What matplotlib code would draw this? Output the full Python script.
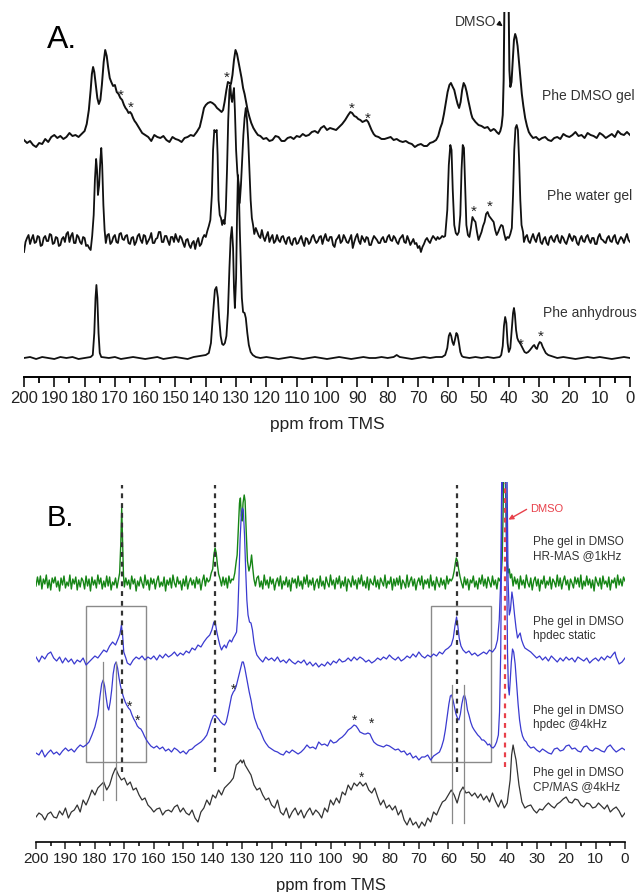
import numpy as np
import matplotlib.pyplot as plt
from matplotlib.ticker import MultipleLocator
from matplotlib.patches import Rectangle

plt.rcParams['font.family'] = ['Liberation Sans', 'DejaVu Sans']


def seg(start, vals, step=0.5):
    return [(start - step * i, v) for i, v in enumerate(vals)]


# ---------------- data: (ppm, intensity above own baseline) ----------------
# Panel A
dmso_gel = [
    (200, 0), (199, -3), (198, -1), (197, -5), (196, -7), (195, -3), (194, -4), (193, 1), (192, -2),
    (191, 3), (190, 5), (189, 2), (188, 4), (187, 1), (186, 3), (185, 7), (184, 4), (183, 5), (182, 3),
    (181, 6), (180, 9), (179.3, 16), (178.6, 30), (178, 50), (177.6, 66), (177.2, 73), (176.8, 68),
    (176.3, 55), (175.8, 42), (175.3, 36), (174.8, 40), (174.3, 55), (173.7, 78), (173.2, 90),
    (172.7, 84), (172.2, 72), (171.7, 62), (171.2, 58), (170.6, 54), (170, 55), (169.4, 48),
    (168.8, 46), (168.2, 42), (167.6, 40), (167, 35), (166.5, 32), (166, 30), (165.5, 27), (165, 28),
    (164.5, 26), (164, 22), (163.5, 19), (163, 17), (162, 12), (161, 7), (160, 5), (159, 3), (158, -1),
    (157, 5), (156, 3), (155, 2), (154, 4), (153, 0), (152, -2), (151, 3), (150, 1), (149, 0),
    (148, -2), (147, 2), (146, 3), (145, 5), (144, 4), (143, 8), (142, 13), (141.3, 22), (140.6, 32),
    (140, 35), (139.3, 37), (138.5, 38), (137.8, 37), (137, 35), (136.3, 32), (135.5, 30), (134.8, 28),
    (134.3, 30), (133.8, 38), (133.2, 50), (132.7, 58), (132.2, 57), (131.7, 56), (131.2, 65),
    (130.7, 80), (130.2, 90), (129.7, 86), (129.2, 78), (128.7, 70), (128.2, 62), (127.7, 52),
    (127.2, 46), (126.7, 38), (126.2, 30), (125.6, 23), (125, 17), (124.3, 12), (123.5, 8), (122.8, 5),
    (122, 4), (121, 1), (120, 2), (119, -1), (118, 0), (117, 4), (116, 3), (115, -1), (114, -1),
    (113, 2), (112, 3), (111, 1), (110, 4), (109, 3), (108, 6), (107, 4), (106, 5), (105, 8), (104, 9),
    (103, 7), (102, 12), (101, 14), (100, 10), (99, 12), (98, 11), (97, 10), (96, 13), (95, 16),
    (94, 20), (93, 25), (92.3, 28), (91.7, 27), (91, 24), (90.3, 23), (89.7, 21), (89, 20), (88.3, 18),
    (87.6, 19), (87, 20), (86.4, 18), (86, 15), (85.3, 10), (84.6, 6), (84, 4), (83, 3), (82, 1),
    (81, 1), (80, 2), (79, 3), (78, 0), (77, 1), (76, -1), (75, -2), (74, -1), (73, -3), (72, -4),
    (71, -7), (70, -5), (69, -4), (68, -6), (67, -6), (66, -3), (65, -2), (64, 0), (63.3, 4),
    (62.6, 12), (62, 17), (61.4, 26), (60.8, 37), (60.2, 48), (59.6, 55), (59.1, 57), (58.5, 53),
    (58, 50), (57.4, 42), (56.9, 36), (56.4, 32), (55.9, 38), (55.4, 50), (54.9, 57), (54.4, 54),
    (53.9, 48), (53.4, 40), (52.9, 33), (52.4, 26), (52, 22), (51, 18), (50, 15), (49, 14), (48, 12),
    (47, 13), (46, 9), (45, 11), (44.5, 10), (44, 8), (43.3, 6), (42.8, 9), (42.4, 14), (42, 25),
    (41.7, 60), (41.4, 150), (41.0, 260), (40.5, 260), (40.1, 150), (39.8, 70), (39.5, 53),
    (39.1, 58), (38.7, 80), (38.3, 100), (37.9, 106), (37.5, 102), (37.1, 94), (36.7, 80), (36.2, 62),
    (35.7, 46), (35.2, 34), (34.6, 22), (34, 14), (33.4, 8), (32.8, 5), (32, 2), (31, 3), (30, 0),
    (29, 2), (28, 3), (27, 0), (26, -1), (25, 2), (24, 3), (23, 1), (22, 6), (21, 4), (20, 3), (19, 5),
    (18, 8), (17, 4), (16, 5), (15, 2), (14, 7), (13, 5), (12, 4), (11, 2), (10, 7), (9, 5), (8, 2),
    (7, 4), (6, 6), (5, 3), (4, 9), (3, 6), (2, 5), (1, 8), (0, 5),
]

water_gel = (
    seg(200, [-12, -2, 2, 5, -4, 1, 5, -3, -2, 4, 3, -6, -5, 2, 4, -1, -1, 6, 5, -4,
              -3, 3, 2, -6, -5, 1, 3, -2, 6, 8, -2, 4, 7, -3, -3, 5, 3, -2, -4, 3,
              2, -6, -5, -8, -10, 4])
    + [(177, 25), (176.6, 60), (176.2, 81), (175.9, 70), (175.6, 45), (175.2, 55), (174.8, 80),
       (174.5, 92), (174.2, 75), (173.8, 35), (173.4, 10)]
    + seg(173, [-3, 5, 6, -4, -2, 3, 5, -2, -3, 6, 7, 1, 0, 4, 5, -3, -4, 2, 3, -5,
                -2, 4, 6, 0, -3, 5, 4, -4, -1, 2, 7, -3, -3, 1, 2, 8, 8, -2, -2, 4,
                4, -1, -5, 3, 3, -2, 6, 1, -2, 4, 2, -3, -7, 0, 1, -5, -8, -3, -1, -9,
                -2, 2, -6, -4, 2, 5, 3, 9])
    + [(139, 14), (138.5, 20), (138, 45), (137.6, 90), (137.2, 110), (136.8, 108), (136.4, 110),
       (136.1, 85), (135.8, 40), (135.4, 25), (135, 22), (134.6, 15), (134.2, 20), (133.8, 16),
       (133.4, 30), (133, 70), (132.6, 120), (132.2, 150), (131.9, 155), (131.6, 142), (131.3, 138),
       (131, 146), (130.7, 152), (130.4, 130), (130, 90), (129.6, 68), (129.2, 55), (128.8, 37),
       (128.4, 55), (128, 80), (127.6, 105), (127.2, 122), (126.8, 132), (126.4, 120), (126, 100),
       (125.6, 70), (125.2, 40), (124.8, 22), (124.4, 15), (124, 6)]
    + seg(123.5, [12, 8, 4, 2, 10, 3, -1, 4, 8, -2, 2, 5, -3, -1, 5, 0, -2, 3, 4, -1,
                  -4, 2, 3, -3, -5, 1, 2, -4, -3, 1, 4, -2, -6, 2, 1, -4, -2, 3, 5, 0,
                  -3, -1, 3, 4, -4, 2, 6, 0, -1, 3, 3, -5, -7, 0, 2, 5, -3, -1, 5, 2,
                  -2, -3, 1, 5, -8, -2, 3, 6, -1, -4, 4, 1, -2, 3, 2, -5, -5, 0, 4, 2,
                  0, -3, -3, 1, 3, -2, -2, 3, 5, 0, -1, 4, 2, -2, -4, 1, 3, 5, -2, -3,
                  4, 0, -5, -2, 1, -4, -3, -8, -6, -12, -7, -4, 0, 2, -1, -3, 1, 4, 2, 0,
                  3, 1, 2, 4, 3, 4])
    + [(60.3, 30), (59.8, 75), (59.3, 95), (58.9, 90), (58.5, 50), (58, 15), (57.5, 7), (57, 5),
       (56.5, 8), (56, 25), (55.6, 70), (55.2, 95), (54.8, 92), (54.4, 55), (54, 15), (53.5, 5),
       (53, 3), (52.5, 12), (52, 23), (51.5, 20), (51, 18), (50.5, 8), (50, 0), (49.5, 4), (49, 8),
       (48.5, 14), (48, 18), (47.5, 26), (47, 28), (46.5, 24), (46, 22), (45.5, 20), (45, 18),
       (44.5, 10), (44, 5), (43.5, 8), (43, 12), (42.5, 15), (42, 14), (41.5, 6), (41, 0), (40.5, 3),
       (40, 2), (39.5, 6), (39, 12), (38.6, 45), (38.2, 90), (37.8, 112), (37.4, 115), (37, 110),
       (36.6, 80), (36.2, 40), (35.8, 15), (35.3, 8)]
    + seg(35, [-2, 3, 5, -1, -3, 2, 6, 1, -2, 4, 7, -2, -4, 1, 3, -3, -5, 2, 4, 0,
               -2, 3, 5, -1, -3, 4, 2, -2, -4, 1, 6, 2, -1, 4, 3, -3, -5, 1, 4, -1,
               -2, 3, 5, 0, -3, 2, 2, -4, -4, 3, 6, 1, 0, -2, -3, 2, 4, -1, -2, 3,
               5, -2, -4, 0, 3, 1, -3, 2, 6, 0, -2])
)

anhydrous = [
    (200, 0), (198, 1), (196, -1), (194, 1), (192, 0), (190, -1), (188, 1), (186, 0), (184, 1),
    (182, -1), (180, 0), (178, 1), (177.3, 3), (176.8, 25), (176.4, 60), (176.1, 73), (175.8, 60),
    (175.4, 25), (175, 5), (174.5, 1), (172, 0), (170, 1), (168, -1), (166, 0), (164, 1), (162, 0),
    (160, -1), (158, 0), (156, 1), (154, -1), (152, 0), (150, 1), (148, 0), (146, -1), (144, 1),
    (142, 2), (140, 3), (139, 5), (138.3, 15), (137.6, 45), (137, 68), (136.5, 71), (136, 60),
    (135.6, 40), (135.1, 22), (134.6, 14), (134.2, 13), (133.7, 15), (133.2, 22), (132.7, 45),
    (132.2, 90), (131.8, 120), (131.4, 131), (131, 110), (130.7, 70), (130.4, 50), (130, 80),
    (129.7, 140), (129.4, 183), (129.1, 170), (128.8, 130), (128.5, 100), (128.1, 60), (127.7, 46),
    (127.2, 45), (126.8, 40), (126.3, 25), (125.8, 13), (125.2, 6), (124.5, 3), (123.5, 1), (122, 0),
    (120, 1), (118, 0), (116, -1), (114, 0), (112, 1), (110, 0), (108, -1), (106, 0), (104, 1),
    (102, 0), (100, -1), (98, 0), (96, 1), (94, 0), (92, -1), (90, 0), (88, 1), (86, 0), (84, 0),
    (82, 1), (80, 0), (78, 1), (77, 3), (76, 1), (74, 0), (72, -1), (70, 0), (68, 1), (66, 0), (64, 1),
    (62, 1), (61, 3), (60.3, 10), (59.8, 22), (59.4, 25), (59, 22), (58.6, 16), (58.2, 13),
    (57.8, 18), (57.3, 25), (56.9, 23), (56.4, 14), (56, 6), (55.5, 2), (55, 1), (53, 0), (51, 1),
    (49, 0), (47, 1), (45, 0), (43, 1), (42.5, 3), (42, 12), (41.6, 32), (41.2, 41), (40.8, 35),
    (40.4, 15), (40, 6), (39.5, 10), (39, 30), (38.6, 45), (38.3, 50), (38, 44), (37.6, 28),
    (37.2, 20), (36.8, 17), (36.3, 15), (35.8, 12), (35.3, 9), (34.8, 6), (34.2, 5), (33.6, 6),
    (33, 8), (32.5, 10), (32, 12), (31.6, 13), (31.1, 10), (30.7, 9), (30.3, 13), (29.8, 16),
    (29.3, 15), (28.8, 11), (28.3, 8), (27.8, 5), (27, 3), (26, 2), (25, 1), (24, 0), (22, 1), (20, 0),
    (18, -1), (16, 0), (14, 1), (12, 0), (10, 1), (8, 0), (6, -1), (4, 0), (2, 1), (0, 0),
]

# Panel B
hrmas = (
    seg(200, [-3, 6, -2, 7, -6, 4, -1, 8, -5, 3, -7, 5, 0, 6, -4, 2, -8, 5, -2, 7,
              -5, 1, -3, 8, -6, 4, -1, 6, -7, 3, -4, 5, 2, -6, 7, -3, 4, -8, 6, -2,
              3, -5, 8, -1, 5, -6, 2, -4, 7, -3, 6, -7, 1, -2, 5, -5])
    + [(172.0, 3), (171.6, 10), (171.2, 40), (170.9, 75), (170.6, 40), (170.3, 8)]
    + seg(170, [-4, 5, -2, 3, -6, 7, -1, 4, -8, 2, -3, 6, 0, -5, 8, -2, 3, -7, 5, -1,
                4, -6, 2, 7, -4, 1, -3, 6, -8, 3, -2, 5, -5, 8, 0, -4, 6, -1, 2, -7,
                4, -3, 7, -6, 1, 5, -2, 3, -5, 6, -1, 4, -7, 2, 8, -3, 5, 1, 3])
    + [(140.5, 10), (140, 14), (139.6, 28), (139.2, 35), (138.8, 30), (138.4, 18), (138, 9),
       (137.5, 4)]
    + seg(137, [-3, 6, -2, 5, -5, 7, 0, 4, 3])
    + [(132.5, 10), (132.0, 22), (131.7, 28), (131.3, 55), (130.9, 80), (130.6, 85), (130.3, 68),
       (130.0, 62), (129.7, 80), (129.3, 88), (129.0, 82), (128.6, 50), (128.2, 22), (127.7, 12),
       (127.2, 18), (126.8, 28), (126.4, 15), (126, 4)]
    + seg(125.5, [-3, 5, 7, -4, 2, -6, 8, -2, 3, -5, 6, -1, 4, -7, 1, 5, -3, 7, -6, 2,
                  -2, 6, -4, 3, -8, 5, 0, 4, -5, 7, -3, 2, -6, 6, -1, 8, -4, 3, -2, 5,
                  -7, 1, 4, -5, 7, -3, 2, -6, 6, 0, -4, 8, -2, 3, -6, 5, -1, 7, -5, 2,
                  -3, 6, -8, 4, 1, -4, 7, -2, 3, -6, 5, -1, 8, -3, 2, -5, 6, -7, 4, 0,
                  -2, 7, -4, 3, -6, 5, 1, -3, 8, -5, 2, -1, 6, -7, 4, -3, 5, -2, 7, -6,
                  3, 0, -5, 8, -4, 2, 6, -3, 4, -7, 1, 5, -2, 7, -6, 3, -1, 4, -5, 8,
                  -3, 2, -7, 6, 0, -4, 5, -2, 3, -6, 7, -1, 4, 2])
    + [(58.5, 5), (58.0, 12), (57.6, 20), (57.3, 25), (56.9, 22), (56.5, 14), (56.0, 6), (55.5, 0)]
    + seg(55, [-5, 6, -2, 4, -7, 3, 0, 7, -4, 2, -6, 5, -1, 8, -3, 4, -5, 6, 1, -4,
               7, -2, 3, -6, 5, 2])
    + [(42.0, 8), (41.7, 25), (41.4, 70), (41.1, 130), (40.7, 130), (40.4, 70), (40.1, 25),
       (39.7, 10), (39.3, 14), (38.9, 5), (38.5, 9)]
    + seg(38, [-3, 6, -1, 4, -6, 7, -2, 3, -5, 8, 0, -4, 5, -7, 2, 6, -3, 4, -8, 3,
               -1, 7, -5, 2, -2, 6, -6, 4, 1, -4, 8, -3, 5, -6, 2, 7, -2, 3, -7, 4,
               0, -5, 6, -1, 5, -4, 8, -6, 2, -3, 7, -2, 4, -5, 3, -8, 6, 1, -3, 5,
               -6, 7, -1, 2, -4, 6, -7, 3, 0, 5, -5, 8, -2, 4, -3, 6, 2])
)

hpdec_static = [
    (200, 3), (199, -2), (198, 4), (197, 1), (196, 6), (195, 8), (194, 2), (193, -1), (192, 3),
    (191, -3), (190, 2), (189, -2), (188, 1), (187, -4), (186, 0), (185, -2), (184, 2), (183, -5),
    (182, -2), (181, 1), (180, 4), (179, 2), (178, 6), (177, 10), (176, 8), (175, 14), (174, 18),
    (173, 15), (172, 22), (171.5, 26), (171, 35), (170.6, 25), (170.2, 8), (169.5, 2), (169, -3),
    (168, -5), (167, 0), (166, 3), (165, 1), (164, 4), (163, 0), (162, 3), (161, 1), (160, 4), (159, 0),
    (158, 5), (157, 2), (156, 6), (155, 3), (154, 5), (153, 8), (152, 4), (151, 7), (150, 5), (149, 9),
    (148, 7), (147, 12), (146, 10), (145, 15), (144, 13), (143, 18), (142, 22), (141, 25),
    (140.3, 30), (139.6, 38), (139.1, 37), (138.6, 28), (138, 20), (137.5, 14), (137, 10),
    (136.5, 13), (136, 15), (135.4, 12), (134.8, 17), (134.2, 20), (133.6, 18), (133, 22),
    (132.4, 25), (131.9, 28), (131.5, 45), (131.1, 80), (130.7, 120), (130.3, 145), (129.9, 152),
    (129.6, 150), (129.2, 125), (128.8, 90), (128.4, 60), (128, 45), (127.5, 38), (127, 37),
    (126.5, 30), (126, 18), (125.5, 10), (125, 5), (124, 1), (123, -2), (122, 3), (121, 0), (120, 2),
    (119, -1), (118, 3), (117, -2), (116, 0), (115, -3), (114, 1), (113, -2), (112, -4), (111, -1),
    (110, -3), (109, 0), (108, -5), (107, -2), (106, -6), (105, -3), (104, -7), (103, -4), (102, -6),
    (101, -2), (100, -5), (99, -1), (98, -3), (97, 1), (96, -2), (95, -1), (94, 2), (93, -1), (92, 3),
    (91, 0), (90, 3), (89, 1), (88, -2), (87, 0), (86, -3), (85, -1), (84, 2), (83, 0), (82, 3),
    (81, 1), (80, 5), (79, 2), (78, 0), (77, 3), (76, -1), (75, 1), (74, 4), (73, 2), (72, 6), (71, 3),
    (70, 8), (69, 4), (68, 2), (67, 5), (66, 3), (65, 6), (64, 4), (63, 8), (62, 6), (61, 10),
    (60, 12), (59, 15), (58.3, 22), (57.7, 35), (57.2, 43), (56.8, 35), (56.3, 22), (55.7, 14),
    (55, 10), (54, 7), (53, 9), (52, 5), (51, 7), (50, 4), (49, 6), (48, 8), (47, 6), (46, 10), (45, 8),
    (44, 12), (43.3, 20), (42.7, 40), (42.2, 80), (41.8, 200), (41.2, 300), (40.6, 300), (40.1, 200),
    (39.7, 80), (39.3, 45), (38.9, 50), (38.4, 68), (38, 60), (37.5, 45), (37, 32), (36.5, 22),
    (36, 25), (35.6, 27), (35.1, 20), (34.5, 15), (34, 12), (33, 10), (32, 8), (31, 5), (30, 2),
    (29, 4), (28, 0), (27, 3), (26, -1), (25, 4), (24, 1), (23, -2), (22, 2), (21, -1), (20, 3),
    (19, 0), (18, 2), (17, -2), (16, 3), (15, 1), (14, -1), (13, 2), (12, -3), (11, 0), (10, 2),
    (9, -1), (8, 3), (7, 0), (6, 4), (5, 2), (4, 6), (3.4, 8), (3, 3), (2, -4), (1, -2), (0, 2),
]

hpdec_4khz = [
    (200, -1), (199, -3), (198, 2), (197, -5), (196, -1), (195, 2), (194, -2), (193, 0), (192, -3),
    (191, 1), (190, 4), (189, 1), (188, 3), (187, 0), (186, 4), (185, 7), (184, 5), (183, 7),
    (182, 10), (181, 17), (180, 25), (179, 37), (178.3, 55), (177.7, 68), (177.2, 72), (176.7, 66),
    (176.2, 55), (175.7, 45), (175.3, 42), (174.8, 50), (174.3, 62), (173.8, 78), (173.3, 87),
    (172.8, 90), (172.3, 84), (171.8, 74), (171.3, 66), (170.8, 60), (170.3, 55), (169.7, 50),
    (169.2, 47), (168.6, 44), (168, 42), (167.4, 37), (166.8, 33), (166.2, 30), (165.6, 26),
    (165, 24), (164.4, 23), (163.8, 20), (163.2, 16), (162.5, 12), (161.8, 9), (161, 6), (160, 4),
    (159, 6), (158, 3), (157, 5), (156, 1), (155, 3), (154, 0), (153, 4), (152, 2), (151, -1),
    (150, 1), (149, -2), (148, 2), (147, 3), (146, 6), (145, 8), (144, 10), (143, 13), (142, 17),
    (141.2, 24), (140.5, 31), (139.8, 36), (139.2, 37), (138.6, 35), (138, 33), (137.3, 30),
    (136.6, 28), (136, 27), (135.4, 30), (134.8, 38), (134.2, 47), (133.6, 56), (133, 60),
    (132.5, 62), (132, 66), (131.5, 72), (131, 78), (130.5, 84), (130, 90), (129.6, 90), (129.1, 84),
    (128.6, 76), (128.1, 68), (127.6, 60), (127, 52), (126.4, 42), (125.8, 34), (125.2, 29),
    (124.6, 24), (124, 22), (123.3, 17), (122.6, 12), (122, 9), (121, 5), (120, 3), (119, 1),
    (118, 0), (117, -2), (116, -3), (115, 1), (114, -1), (113, 2), (112, 0), (111, -2), (110, 0),
    (109, 3), (108, 7), (107, 4), (106, 5), (105, 3), (104, 10), (103, 7), (102, 8), (101, 6),
    (100, 12), (99, 9), (98, 10), (97, 13), (96, 15), (95, 18), (94, 22), (93, 24), (92, 27),
    (91.3, 26), (90.6, 23), (90, 20), (89.3, 19), (88.6, 18), (88, 18), (87.3, 19), (86.6, 18),
    (86, 14), (85.3, 10), (84.5, 8), (84, 7), (83, 6), (82, 5), (81, 7), (80, 6), (79, 4), (78, 2),
    (77, 3), (76, 0), (75, 1), (74, -3), (73, -1), (72, -6), (71, -4), (70, -8), (69, -5), (68, -5),
    (67, -3), (66, -8), (65, -4), (64, -2), (63, 0), (62.3, 5), (61.6, 12), (61, 22), (60.4, 35),
    (59.8, 48), (59.3, 56), (58.9, 57), (58.4, 52), (57.9, 45), (57.4, 38), (56.9, 34), (56.4, 32),
    (55.9, 38), (55.4, 48), (54.9, 55), (54.5, 57), (54, 52), (53.5, 42), (53, 37), (52.4, 30),
    (51.8, 25), (51.2, 22), (50.5, 19), (50, 17), (49.3, 15), (48.6, 12), (48, 12), (47.3, 10),
    (46.6, 7), (46, 8), (45.4, 5), (44.8, 4), (44.2, 6), (43.6, 10), (43, 17), (42.6, 40),
    (42.2, 100), (41.8, 250), (41.2, 300), (40.6, 300), (40.2, 200), (39.9, 100), (39.6, 65),
    (39.3, 57), (39, 70), (38.6, 90), (38.2, 103), (37.8, 100), (37.3, 88), (36.8, 68), (36.3, 48),
    (35.8, 32), (35.3, 22), (34.8, 16), (34.2, 12), (33.5, 10), (33, 7), (32, 4), (31, 5), (30, 2),
    (29, 0), (28, 3), (27, 1), (26, -1), (25, -2), (24, 3), (23, 4), (22, 1), (21, 2), (20, 6),
    (19, 7), (18, 3), (17, 4), (16, 1), (15, 0), (14, 5), (13, 6), (12, 2), (11, 1), (10, 4), (9, 3),
    (8, 1), (7, 0), (6, 5), (5, 7), (4, 3), (3, 0), (2, 2), (1, 4), (0, 2),
]

cpmas_4khz = [
    (200, -2), (199, 2), (198, 0), (197, -5), (196, 1), (195, 3), (194, -2), (193, -3), (192, 4),
    (191, 0), (190, 7), (189, -3), (188, 3), (187, 5), (186, 10), (185, 3), (184, 15), (183, 10),
    (182, 17), (181, 25), (180, 20), (179, 27), (178, 30), (177, 33), (176, 25), (175, 30), (174, 40),
    (173, 47), (172, 40), (171, 35), (170, 37), (169, 30), (168, 33), (167, 25), (166, 27), (165, 20),
    (164, 15), (163, 17), (162, 10), (161, 7), (160, 3), (159, 6), (158, 7), (157, 0), (156, 4),
    (155, 5), (154, 3), (153, 8), (152, 10), (151, 3), (150, 7), (149, 2), (148, 0), (147, 5),
    (146, -3), (145, -7), (144, 3), (143, 7), (142, 15), (141, 10), (140, 20), (139, 17), (138, 25),
    (137, 20), (136, 27), (135, 30), (134, 33), (133, 37), (132, 50), (131, 53), (130.5, 55),
    (130, 52), (129.5, 55), (129, 50), (128, 45), (127, 40), (126, 30), (125, 25), (124, 27),
    (123, 20), (122, 15), (121, 17), (120, 10), (119, 7), (118, 15), (117, 3), (116, 0), (115, 7),
    (114, -3), (113, 3), (112, 7), (111, 0), (110, 5), (109, -3), (108, 3), (107, 7), (106, 0),
    (105, 5), (104, 2), (103, -3), (102, 7), (101, 3), (100, 15), (99, 10), (98, 17), (97, 12),
    (96, 23), (95, 20), (94, 30), (93, 25), (92, 32), (91, 29), (90, 33), (89, 29), (88, 32), (87, 25),
    (86, 22), (85, 27), (84, 18), (83, 10), (82, 15), (81, 7), (80, 10), (79, 5), (78, 9), (77, 0),
    (76, 5), (75, -5), (74, -10), (73, -3), (72, -10), (71, -7), (70, -13), (69, -7), (68, -11),
    (67, -3), (66, -7), (65, 3), (64, 0), (63, 7), (62, 13), (61, 15), (60, 20), (59, 25), (58, 20),
    (57, 12), (56, 23), (55, 28), (54, 22), (53, 23), (52, 19), (51, 22), (50, 17), (49, 21),
    (48, 15), (47, 19), (46, 13), (45, 22), (44, 14), (43, 8), (42, 15), (41, 7), (40, 12), (39, 35),
    (38.5, 60), (38, 70), (37.5, 62), (37, 55), (36, 30), (35, 13), (34, 7), (33, 9), (32, 10),
    (31, 5), (30, 2), (29, 6), (28, 5), (27, 9), (26, 12), (25, 9), (24, 7), (23, 11), (22, 13),
    (21, 16), (20, 18), (19, 13), (18, 12), (17, 16), (16, 15), (15, 10), (14, 8), (13, 12), (12, 11),
    (11, 7), (10, 8), (9, 12), (8, 9), (7, 6), (6, 10), (5, 3), (4, 6), (3, 8), (2, 4), (1, -2), (0, 2),
]

# asterisks (ppm, height above axis) and guide lines
stars_a = [(168.0, 285), (164.7, 273), (133.0, 303), (91.7, 272), (86.5, 262),
           (51.5, 169), (46.2, 174), (36.0, 36), (29.4, 44)]
stars_b = [(168.1, 138), (165.5, 124), (133.1, 155), (91.7, 124), (86.2, 121), (89.6, 67)]
guide_ppm = [170.8, 139.2, 57.0]
dmso_ppm = 40.7
peak_marks_left = [177.1, 172.9]
peak_marks_right = [58.7, 54.7]
boxes_ppm = [(183.0, 162.6), (65.9, 45.5)]

# ---------------- figure ----------------
W, H = 638, 892
fig = plt.figure(figsize=(W / 100, H / 100), dpi=100)


def px_axes(x0, x1, ytop, ybot):
    return fig.add_axes([x0 / W, 1 - ybot / H, (x1 - x0) / W, (ybot - ytop) / H])


def fx(x):
    return x / W


def fy(y):
    return 1 - y / H


axA = px_axes(24, 630, 12, 377)
axB = px_axes(36, 625, 482, 842)
axA.set_ylim(0, 365)
axB.set_ylim(0, 360)

for ax in (axA, axB):
    ax.set_xlim(200, 0)
    for s in ('top', 'left', 'right'):
        ax.spines[s].set_visible(False)
    ax.set_yticks([])
    ax.xaxis.set_major_locator(MultipleLocator(10))
    ax.xaxis.set_minor_locator(MultipleLocator(5))
    ax.patch.set_alpha(0)

axA.spines['bottom'].set_linewidth(1.4)
axA.tick_params(axis='x', which='major', length=7, width=1.3, labelsize=12, pad=3, colors='#222222')
axA.tick_params(axis='x', which='minor', length=4, width=1.3)
axA.set_xlabel('ppm from TMS', fontsize=12.5, labelpad=8, color='#222222')

axB.spines['bottom'].set_linewidth(1.2)
axB.tick_params(axis='x', which='major', length=5, width=1.1, labelsize=11, pad=2, colors='#222222')
axB.tick_params(axis='x', which='minor', length=3, width=1.1)
for lab in axB.get_xticklabels():
    lab.set_family(['Liberation Sans Narrow', 'Liberation Sans', 'DejaVu Sans'])
axB.set_xlabel('ppm from TMS', fontsize=12, labelpad=9, color='#222222')


def draw(ax, trace, offset, **kw):
    arr = np.array(trace, dtype=float)
    ax.plot(arr[:, 0], arr[:, 1] + offset, **kw)


# panel A
draw(axA, dmso_gel, 237, color='#111111', lw=1.4)
draw(axA, water_gel, 137, color='#111111', lw=1.3)
draw(axA, anhydrous, 19, color='#111111', lw=1.3)
for p, h in stars_a:
    axA.text(p, h - 8, '*', ha='center', va='baseline', fontsize=11, color='#222222')

fig.text(fx(47), fy(48), 'A.', fontsize=23, va='baseline')
fig.text(fx(455), fy(26), 'DMSO', fontsize=10, va='baseline', color='#333333')
fig.text(fx(542), fy(100), 'Phe DMSO gel', fontsize=10, va='baseline', color='#333333')
fig.text(fx(547), fy(200), 'Phe water gel', fontsize=10, va='baseline', color='#333333')
fig.text(fx(543), fy(317), 'Phe anhydrous', fontsize=10, va='baseline', color='#333333')
axA.annotate('', xy=(fx(505), fy(28)), xycoords='figure fraction',
             xytext=(fx(497), fy(22)), textcoords='figure fraction',
             arrowprops=dict(arrowstyle='-|>', color='#111111', lw=1, mutation_scale=7))

# panel B
draw(axB, hrmas, 259, color='#158515', lw=1.0)
draw(axB, hpdec_static, 182, color='#3a3ad0', lw=0.9)
draw(axB, hpdec_4khz, 90, color='#3a3ad0', lw=0.9)
draw(axB, cpmas_4khz, 27, color='#333333', lw=0.9)

for p in guide_ppm:
    axB.plot([p, p], [70, 357], color='#333333', lw=1.6, ls=(0, (2.2, 2.2)))
axB.plot([dmso_ppm, dmso_ppm], [75, 359], color='#e8404a', lw=1.6, ls=(0, (2.2, 2.2)))
for p in peak_marks_left:
    axB.plot([p, p], [42, 180], color='#888888', lw=0.9)
for p in peak_marks_right:
    axB.plot([p, p], [19, 157], color='#888888', lw=0.9)
for p0, p1 in boxes_ppm:
    axB.add_patch(Rectangle((p1, 80), p0 - p1, 156, fill=False, ec='#8a8a8a', lw=1.0))
for p, h in stars_b:
    axB.text(p, h - 7, '*', ha='center', va='baseline', fontsize=10, color='#222222')

fig.text(fx(47), fy(526), 'B.', fontsize=21, va='baseline')
fig.text(fx(530), fy(512), 'DMSO', fontsize=8, va='baseline', color='#e8404a')
axB.annotate('', xy=(fx(506), fy(521)), xycoords='figure fraction',
             xytext=(fx(529), fy(508)), textcoords='figure fraction',
             arrowprops=dict(arrowstyle='-|>', color='#e8404a', lw=1, mutation_scale=7))
labels_b = [('Phe gel in DMSO', 'HR-MAS @1kHz', 545),
            ('Phe gel in DMSO', 'hpdec static', 625),
            ('Phe gel in DMSO', 'hpdec @4kHz', 714),
            ('Phe gel in DMSO', 'CP/MAS @4kHz', 776)]
for l1, l2, yb in labels_b:
    fig.text(fx(533), fy(yb), l1, fontsize=8.5, va='baseline', color='#333333')
    fig.text(fx(533), fy(yb + 14), l2, fontsize=8.5, va='baseline', color='#333333')

fig.savefig('out.png', dpi=100)
